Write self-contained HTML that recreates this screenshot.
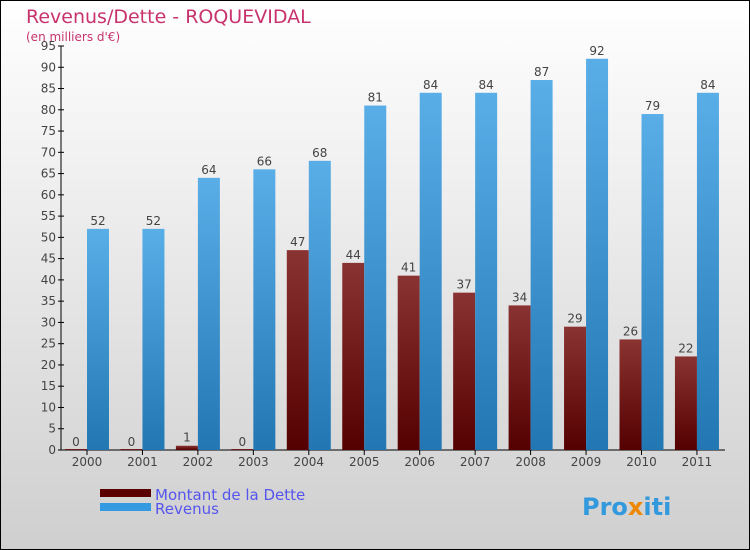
<!DOCTYPE html>
<html><head><meta charset="utf-8"><style>
body{margin:0}
svg{display:block;font-family:"DejaVu Sans","Liberation Sans",sans-serif}
</style></head><body>
<svg width="750" height="550" viewBox="0 0 750 550" xmlns="http://www.w3.org/2000/svg">
<defs>
<linearGradient id="bg" x1="0" y1="0" x2="0" y2="1"><stop offset="0" stop-color="#ffffff"/><stop offset="1" stop-color="#cfcfcf"/></linearGradient>
<linearGradient id="gd" x1="0" y1="0" x2="0" y2="1"><stop offset="0" stop-color="#8a3333"/><stop offset="1" stop-color="#550000"/></linearGradient>
<linearGradient id="gr" x1="0" y1="0" x2="0" y2="1"><stop offset="0" stop-color="#5aaee8"/><stop offset="1" stop-color="#2277b3"/></linearGradient>
</defs>
<rect x="0.5" y="0.5" width="749" height="549" fill="url(#bg)" stroke="#000"/>
<text x="26" y="23" font-size="19" fill="#c8336e">Revenus/Dette - ROQUEVIDAL</text>
<text x="26" y="41" font-size="12" fill="#c8336e">(en milliers d'€)</text>
<g id="plot"></g>
<rect x="100" y="489" width="51" height="8" fill="#5a0000"/>
<text x="155" y="500" font-size="15" fill="#5555ee">Montant de la Dette</text>
<rect x="100" y="503" width="51" height="8" fill="#3399e0"/>
<text x="155" y="514" font-size="15" fill="#5555ee">Revenus</text>
<text x="582" y="515" font-size="24" font-weight="bold" fill="#3399dd">Pro<tspan fill="#ee8800">x</tspan>iti</text>
</svg>
<script>
const years=["2000","2001","2002","2003","2004","2005","2006","2007","2008","2009","2010","2011"];
const dette=[0,0,1,0,47,44,41,37,34,29,26,22];
const revenus=[52,52,64,66,68,81,84,84,87,92,79,84];
const yTicks=[0,5,10,15,20,25,30,35,40,45,50,55,60,65,70,75,80,85,90,95];
const NS="http://www.w3.org/2000/svg";
const g=document.getElementById('plot');
const y=v=>450-v*404/95;
const xc=i=>87+i*55.45;
function mk(t,a,txt){const e=document.createElementNS(NS,t);for(const k in a)e.setAttribute(k,a[k]);if(txt!==undefined)e.textContent=txt;g.appendChild(e);return e;}
let ax=mk('line',{x1:61,y1:46,x2:61,y2:450,stroke:'#000'});


let bx=mk('line',{x1:61,y1:450,x2:725,y2:450,stroke:'#000'});


yTicks.forEach(v=>{
 const t=mk('line',{x1:58,y1:y(v),x2:64,y2:y(v),stroke:'#000'});
 
 
 const l=mk('text',{x:56,y:y(v)+4,'font-size':12,fill:'#444','text-anchor':'end'},v);
 
 
});
years.forEach((yr,i)=>{
 const c=xc(i);
 const t=mk('line',{x1:c,y1:450,x2:c,y2:455,stroke:'#000'});
 
 
 const l=mk('text',{x:c,y:466,'font-size':12,fill:'#444','text-anchor':'middle'},yr);
 
 
 const hd=Math.max(450-y(dette[i]),1);
 const b1=mk('rect',{x:c-22,y:450-hd,width:22,height:hd,fill:'url(#gd)'});
 
 
 const v1=mk('text',{x:c-11,y:y(dette[i])-4,'font-size':12,fill:'#444','text-anchor':'middle'},dette[i]);
 
 
 const b2=mk('rect',{x:c,y:y(revenus[i]),width:22,height:450-y(revenus[i]),fill:'url(#gr)'});
 
 
 const v2=mk('text',{x:c+11,y:y(revenus[i])-4,'font-size':12,fill:'#444','text-anchor':'middle'},revenus[i]);
 
 
});
</script>
</body></html>
